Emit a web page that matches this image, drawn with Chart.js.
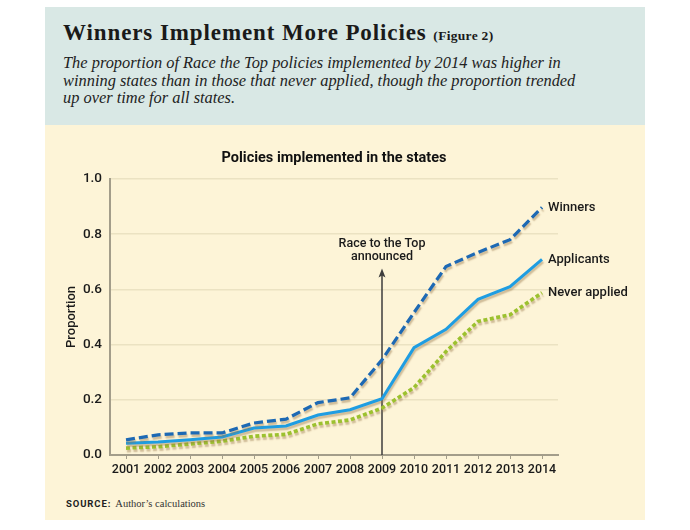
<!DOCTYPE html>
<html><head><meta charset="utf-8">
<script src="https://cdn.jsdelivr.net/npm/chart.js@4.4.1/dist/chart.umd.min.js"></script>
<style>
html,body{margin:0;padding:0;background:#fff;width:690px;height:530px;overflow:hidden}
#panel{position:absolute;left:45px;top:7px;width:600px;height:513px;background:#fdf4d7}
#head{position:absolute;left:0;top:0;width:600px;height:118px;background:#d9e8e5}
#title{position:absolute;left:18px;top:14px;font-family:"Liberation Serif",serif;font-weight:bold;font-size:23px;letter-spacing:0.9px;line-height:23px;color:#1a1a1a;white-space:nowrap}
#title span{font-size:13.5px;letter-spacing:0.3px}
#sub{position:absolute;left:18px;top:47px;font-family:"Liberation Serif",serif;font-style:italic;font-size:16.4px;line-height:17.6px;color:#222;white-space:nowrap}
#chartbox{position:absolute;left:0;top:123px;width:600px;height:360px}
#source{position:absolute;left:21px;top:489px;white-space:nowrap;line-height:12px;color:#333}
#source b{font-family:Roboto,sans-serif;font-size:9.5px;letter-spacing:0.9px;color:#222}
#source span{font-family:"Liberation Serif",serif;font-size:10.5px}
</style></head>
<body>
<div id="panel">
  <div id="head">
    <div id="title">Winners Implement More Policies <span>(Figure 2)</span></div>
    <div id="sub">The proportion of Race the Top policies implemented by 2014 was higher in<br>winning states than in those that never applied, though the proportion trended<br>up over time for all states.</div>
  </div>
  <div id="chartbox"><canvas id="c" width="600" height="360"></canvas></div>
  <div id="source"><b>SOURCE:</b> <span>Author’s calculations</span></div>
</div>
<script>
const years = ['2001','2002','2003','2004','2005','2006','2007','2008','2009','2010','2011','2012','2013','2014'];
const winners      = [0.055,0.073,0.080,0.080,0.116,0.130,0.190,0.207,0.345,0.516,0.683,0.734,0.780,0.897];
const applicants   = [0.043,0.047,0.055,0.065,0.098,0.105,0.145,0.164,0.204,0.389,0.455,0.564,0.610,0.709];
const neverApplied = [0.025,0.030,0.040,0.050,0.068,0.075,0.113,0.127,0.170,0.244,0.375,0.484,0.508,0.588];
const seriesNames  = ['Winners','Applicants','Never applied'];
const yTickValues  = [0,0.2,0.4,0.6,0.8,1.0];
const announceYear = '2009';
const announceText = ['Race to the Top','announced'];
const announceArrowTop = 0.676;
const announceTextY = [0.764,0.716];

const SANS = 'Roboto, "Open Sans", sans-serif';
const AXIS = '#a39d8a';

const shadowPlugin = {
  id:'shadow',
  beforeDatasetDraw(chart){
    const ctx = chart.ctx; ctx.save();
    ctx.shadowColor='rgba(150,118,70,0.45)';
    ctx.shadowOffsetX=1; ctx.shadowOffsetY=2.5; ctx.shadowBlur=1.5;
  },
  afterDatasetDraw(chart){ chart.ctx.restore(); }
};

const annotPlugin = {
  id:'annot',
  beforeDatasetsDraw(chart){
    const ctx = chart.ctx, xs = chart.scales.x, ys = chart.scales.y;
    const x = xs.getPixelForValue(years.indexOf(announceYear));
    const y0 = ys.getPixelForValue(0), yt = ys.getPixelForValue(announceArrowTop);
    ctx.save();
    ctx.strokeStyle='#3d3d3d'; ctx.fillStyle='#3d3d3d'; ctx.lineWidth=1.5;
    ctx.beginPath(); ctx.moveTo(x,y0); ctx.lineTo(x,yt+6); ctx.stroke();
    ctx.beginPath(); ctx.moveTo(x,yt); ctx.lineTo(x-3.5,yt+9); ctx.lineTo(x,yt+7); ctx.lineTo(x+3.5,yt+9); ctx.closePath(); ctx.fill();
    ctx.fillStyle='#1a1a1a'; ctx.font='500 12.5px '+SANS; ctx.textAlign='center'; ctx.textBaseline='middle';
    announceText.forEach((t,i)=>ctx.fillText(t,x,ys.getPixelForValue(announceTextY[i])));
    ctx.restore();
  },
  afterDatasetsDraw(chart){
    const ctx = chart.ctx;
    ctx.save();
    ctx.fillStyle='#1a1a1a'; ctx.font='500 13px '+SANS; ctx.textAlign='left'; ctx.textBaseline='middle';
    chart.data.datasets.forEach((ds,i)=>{
      const pts = chart.getDatasetMeta(i).data; const p = pts[pts.length-1];
      ctx.fillText(seriesNames[i], p.x+6, p.y);
    });
    ctx.restore();
  }
};

new Chart(document.getElementById('c'),{
  type:'line',
  data:{labels:years,datasets:[
    {label:seriesNames[0],data:winners,borderColor:'#1d69b4',borderWidth:3.2,borderDash:[9,4],pointRadius:0,tension:0,fill:false,order:0},
    {label:seriesNames[1],data:applicants,borderColor:'#1e9de2',borderWidth:3,pointRadius:0,tension:0,fill:false,order:1},
    {label:seriesNames[2],data:neverApplied,borderColor:'#9cc12f',borderWidth:3.6,borderDash:[4,2.5],pointRadius:0,tension:0,fill:false,order:2}
  ]},
  options:{
    responsive:false,animation:false,
    layout:{padding:{left:0,right:87,top:0,bottom:0}},
    plugins:{
      legend:{display:false},tooltip:{enabled:false},
      title:{display:true,fullSize:false,text:'Policies implemented in the states',color:'#111',
        font:{family:SANS,size:14.5,weight:'bold',lineHeight:1.1},padding:{top:20,bottom:13}}
    },
    scales:{
      x:{offset:true,
        grid:{display:true,drawOnChartArea:false,drawTicks:true,tickLength:4,color:AXIS,lineWidth:1},
        border:{display:true,color:AXIS,width:2},
        ticks:{color:'#1a1a1a',font:{family:SANS,size:12.5,weight:'500'},padding:3,maxRotation:0,autoSkip:false},
        afterFit(s){s.height=35;}
      },
      y:{min:0,max:1,
        grid:{color:'#ebe2c2',lineWidth:1.5,drawTicks:false},
        border:{display:true,color:AXIS,width:2},
        afterBuildTicks(s){s.ticks=yTickValues.map(v=>({value:v}));},
        ticks:{color:'#1a1a1a',font:{family:SANS,size:13.5,weight:'500'},padding:8,callback:v=>Number(v).toFixed(1)},
        title:{display:true,text:'Proportion',color:'#1a1a1a',font:{family:SANS,size:13,weight:'500'},padding:{top:19,bottom:0}},
        afterFit(s){s.width=65;}
      }
    }
  },
  plugins:[shadowPlugin,annotPlugin]
});
</script>
</body></html>
